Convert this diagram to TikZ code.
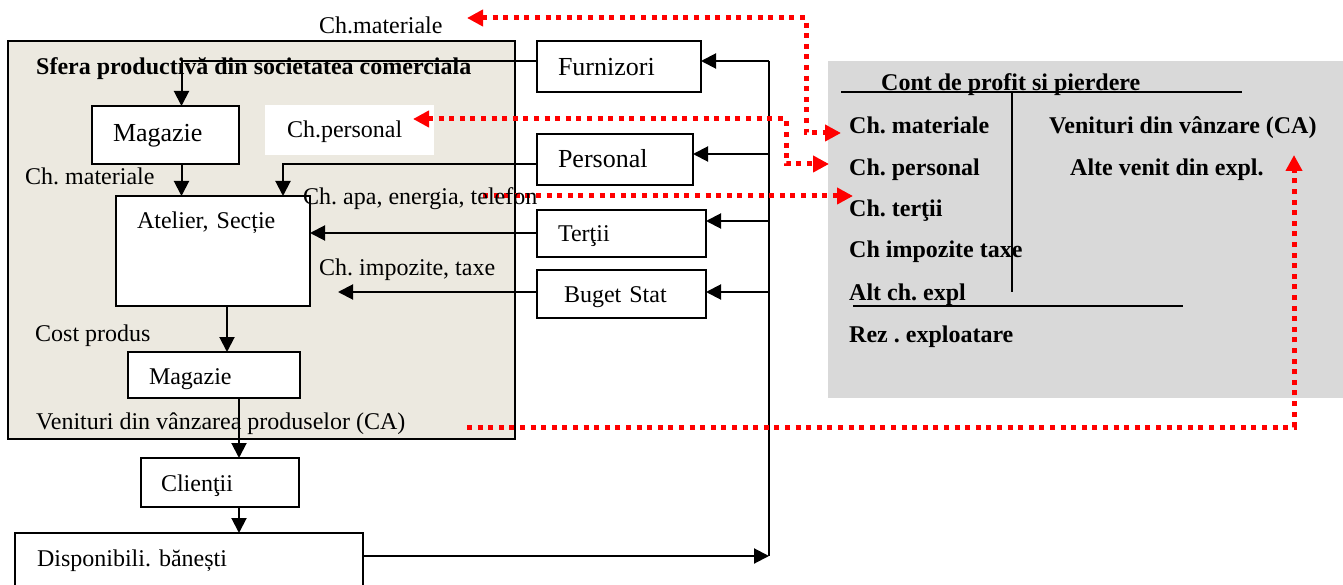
\documentclass[tikz,border=0pt]{standalone}
\usepackage{fontspec}
\setmainfont{Liberation Serif}
\usetikzlibrary{arrows.meta,calc}
\definecolor{beige}{RGB}{236,233,224}
\definecolor{panel}{RGB}{217,217,217}
\frenchspacing
\begin{document}
\begin{tikzpicture}[x=1pt,y=-1pt,
  bx/.style={draw, line width=1.8pt, fill=white, anchor=north west, align=left,
    inner ysep=0pt, outer sep=0pt, font=\fontsize{24}{28}\selectfont},
  big/.style={font=\fontsize{26}{30}\selectfont},
  lbl/.style={anchor=base west, inner sep=0pt, font=\fontsize{24}{28}\selectfont},
  blbl/.style={anchor=base west, inner sep=0pt, font=\fontsize{24}{28}\selectfont\bfseries},
  conn/.style={line width=2pt, -{Triangle[length=15pt,width=15pt]}},
  plain/.style={line width=2pt},
  reddot/.style={red, line width=5pt, dash pattern=on 5pt off 5.6pt},
  tline/.style={line width=1.6pt}]
\useasboundingbox (0,0) rectangle (1343,585);

% containers
\node[draw, line width=1.8pt, fill=beige, anchor=north west, minimum width=507pt,
  minimum height=398pt, inner sep=0pt, outer sep=0pt] (sfera) at (8,41) {};
\node[fill=panel, anchor=north west, minimum width=515pt, minimum height=337pt,
  inner sep=0pt, outer sep=0pt] (cont) at (828,61) {};

% boxes
\node[bx, big, text width=105pt, inner xsep=21pt, text height=36pt, text depth=22pt] (mag1) at (92,106) {Magazie};
\node[anchor=north west, fill=white, align=left, inner ysep=0pt, outer sep=0pt,
  font=\fontsize{24}{28}\selectfont, text width=125pt, inner xsep=22pt,
  text height=33pt, text depth=17pt] (chpers) at (265,105) {Ch.personal};
\node[bx, text width=152pt, inner xsep=21pt, text height=33pt, text depth=77pt] (atel) at (116,196) {Atelier, Secție};
\node[bx, text width=130pt, inner xsep=21pt, text height=32pt, text depth=14pt] (mag2) at (128,352) {Magazie};
\node[bx, big, text width=122pt, inner xsep=21pt, text height=35pt, text depth=16pt] (furn) at (537,41) {Furnizori};
\node[bx, big, text width=114pt, inner xsep=21pt, text height=34pt, text depth=17pt] (pers) at (537,134) {Personal};
\node[bx, text width=127pt, inner xsep=21pt, text height=32pt, text depth=15pt] (tert) at (537,210) {Terţii};
\node[bx, text width=115pt, inner xsep=27pt, text height=32pt, text depth=16pt] (buget) at (537,270) {Buget Stat};
\node[bx, text width=118pt, inner xsep=20pt, text height=33pt, text depth=16pt] (clienti) at (141,458) {Clienţii};
\node[bx, text width=304pt, inner xsep=22pt, text height=33pt, text depth=27pt] (disp) at (15,533) {Disponibili. bănești};

% labels left side
\node[lbl] (lchmat) at (319,34) {Ch.materiale};
\node[lbl, font=\fontsize{24}{28}\selectfont\bfseries] (title) at (36,75) {Sfera productivă din societatea comerciala};
\node[lbl] (lchmat2) at (25,185) {Ch. materiale};
\node[lbl] (lchimp) at (319,276) {Ch. impozite, taxe};
\node[lbl] (lcost) at (35,341) {Cost produs};
\node[lbl] (lvenit) at (36,429) {Venituri din vânzarea produselor (CA)};

% right panel
\node[blbl] (ctitle) at (881,91) {Cont de profit si pierdere};
\node[blbl] (r1) at (849,134) {Ch. materiale};
\node[blbl] (r2) at (849,176) {Ch. personal};
\node[blbl] (r3) at (849,217) {Ch. terţii};
\node[blbl] (r4) at (849,258) {Ch impozite taxe};
\node[blbl] (r5) at (849,300) {Alt ch. expl};
\node[blbl] (r6) at (849,342) {Rez . exploatare};
\node[blbl] (v1) at (1049,134) {Venituri din vânzare (CA)};
\node[blbl] (v2) at (1070,176) {Alte venit din expl.};
\coordinate (ta) at (841,92);
\coordinate (tb) at (1242,92);
\coordinate (tc) at (1012,92);
\coordinate (td) at (1012,292);
\coordinate (te) at (853,306);
\coordinate (tf) at (1183,306);
\draw[tline] (ta) -- (tb);
\draw[tline] (tc) -- (td);
\draw[tline] (te) -- (tf);

% black connectors
\coordinate (j1) at (181.5,61);
\coordinate (j2) at (283,164);
\coordinate (j3) at (338,292);
\coordinate (j4) at (227,306);
\coordinate (j5) at (239,398);
\coordinate (busT) at (769,61);
\coordinate (busB) at (769,556);
\draw[conn] (furn.west |- j1) -- (j1) -- (j1 |- mag1.north);
\draw[conn] (j1 |- mag1.south) -- (j1 |- atel.north);
\draw[conn] (pers.west |- j2) -- (j2) -- (j2 |- atel.north);
\draw[conn] (tert.west |- 0,233) -- (atel.east |- 0,233);
\draw[conn] (buget.west |- j3) -- (j3);
\draw[conn] (j4 |- atel.south) -- (j4 |- mag2.north);
\draw[conn] (j5 |- mag2.south) -- (j5 |- clienti.north);
\draw[conn] (j5 |- clienti.south) -- (j5 |- disp.north);
\draw[plain] (busT) -- (busB);
\draw[conn] (busT) -- (busT -| furn.east);
\draw[conn] (busT |- 0,154) -- (pers.east |- 0,154);
\draw[conn] (busT |- 0,221) -- (tert.east |- 0,221);
\draw[conn] (busT |- 0,292) -- (buget.east |- 0,292);
\draw[conn] (disp.east |- busB) -- (busB);

% red dotted links
\coordinate (a1) at (467,18);
\coordinate (a2) at (806,18);
\coordinate (a3) at (806,133);
\coordinate (a4) at (841,133);
\coordinate (b1) at (413,119);
\coordinate (b2) at (786,119);
\coordinate (b3) at (786,164);
\coordinate (b4) at (829,164);
\coordinate (c1) at (483,196);
\coordinate (c2) at (853,196);
\coordinate (d1) at (467,427);
\coordinate (d2) at (1294,427);
\coordinate (d3) at (1294,155);
\draw[reddot, {Triangle[length=16pt,width=16pt]}-{Triangle[length=16pt,width=16pt]}] (a1) -- (a2) -- (a3) -- (a4);
\draw[reddot, {Triangle[length=16pt,width=16pt]}-{Triangle[length=16pt,width=16pt]}] (b1) -- (b2) -- (b3) -- (b4);
\draw[reddot, -{Triangle[length=16pt,width=16pt]}] (c1) -- (c2);
\draw[reddot, -{Triangle[length=16pt,width=16pt]}] (d1) -- (d2) -- (d3);

\node[lbl] (lchapa) at (303,205) {Ch. apa, energia, telefon};
\end{tikzpicture}
\end{document}
